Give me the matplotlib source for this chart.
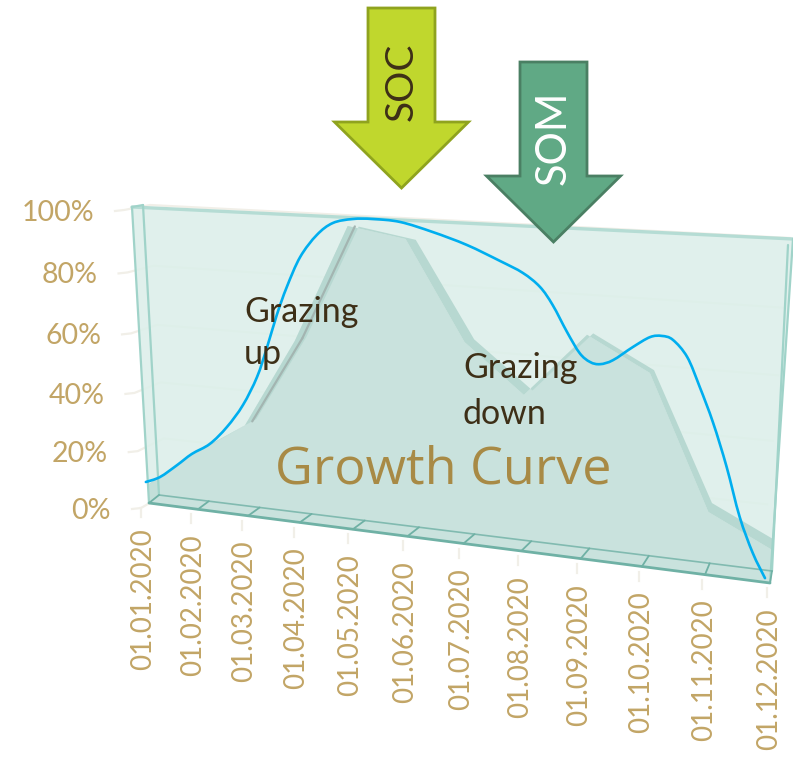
import numpy as np
import matplotlib
matplotlib.use("Agg")
import matplotlib.pyplot as plt
import matplotlib.patches as mpatches
import matplotlib.path as mpath
import matplotlib.transforms as mtransforms

plt.rcParams['font.family'] = ['Lato', 'DejaVu Sans']

# Chart values
dates = ["01.01.2020", "01.02.2020", "01.03.2020", "01.04.2020", "01.05.2020", "01.06.2020",
         "01.07.2020", "01.08.2020", "01.09.2020", "01.10.2020", "01.11.2020", "01.12.2020"]
percent_ticks = [0, 20, 40, 60, 80, 100]
growth = [6.4, 19.4, 30.9, 60.4, 97.4, 94.4, 64.3, 49.6, 69.3, 59.5, 19.5, 10.2]

# Blue line drawn over the chart (month position, percent)
line_month = [-0.04, 0.26, 0.62, 0.93, 1.30, 1.65, 1.98, 2.27, 2.48, 2.68,
              2.88, 3.14, 3.45, 3.74, 4.09, 4.44, 4.91, 5.46, 6.03, 6.58,
              6.95, 7.23, 7.44, 7.68, 7.89, 8.06, 8.22, 8.42, 8.72, 8.98,
              9.16, 9.33, 9.56, 9.77, 10.00, 10.24, 10.48, 10.71, 10.92]
line_pct = [7.4, 9.8, 14.7, 19.2, 23.4, 29.8, 37.8, 47.6, 57.7, 68.3,
            77.4, 87.1, 94.2, 98.1, 99.6, 99.9, 99.4, 96.9, 93.6, 89.4,
            86.3, 82.5, 77.4, 69.7, 63.7, 61.3, 60.9, 62.4, 66.7, 70.0,
            70.6, 69.7, 65.0, 56.6, 46.4, 33.7, 19.1, 8.6, 1.3]


# Perspective of the 3D chart: month/percent to canvas position
class Plane(mtransforms.Transform):
    input_dims = 2
    output_dims = 2

    def __init__(self, bl, br, tr, tl):
        super().__init__()
        src = [(0, 0), (11, 0), (11, 100), (0, 100)]
        rows, rhs = [], []
        for (u, v), (x, y) in zip(src, [bl, br, tr, tl]):
            rows.append([u, v, 1, 0, 0, 0, -u * x, -v * x])
            rows.append([0, 0, 0, u, v, 1, -u * y, -v * y])
            rhs += [x, y]
        self.h = np.append(np.linalg.solve(np.array(rows, float), rhs), 1).reshape(3, 3)

    def transform_non_affine(self, values):
        pts = np.column_stack([values, np.ones(len(values))]) @ self.h.T
        return pts[:, :2] / pts[:, 2:]


front = Plane((149, 503), (770, 583), (793, 239), (132, 207))
back = Plane((159, 495), (772, 571), (788, 245), (143, 205))
wall = Plane((167, 493), (762, 566), (790, 238), (150, 205))
axis = Plane((141, 508), (767, 588), (791, 245), (124, 210))

fig = plt.figure(figsize=(7.93, 7.58), dpi=100)
ax = fig.add_axes([0, 0, 1, 1])
ax.set_xlim(0, 793)
ax.set_ylim(758, 0)
ax.axis("off")

GRID = "#f1efe8"
LABEL = "#c2a566"
months = np.arange(12)


def on(plane, m, p):
    return plane.transform(np.column_stack([np.atleast_1d(m), np.atleast_1d(p)]))


def quad(a, b, **kw):
    # Fill between a run of points and a second run going back
    pts = np.vstack([a, b[::-1]])
    ax.fill(pts[:, 0], pts[:, 1], **kw)


def seg(pts, **kw):
    ax.plot(pts[:, 0], pts[:, 1], solid_capstyle="round", **kw)


def smooth_path(pts):
    # Catmull-Rom through the points, as bezier pieces
    p = np.vstack([pts[0], pts, pts[-1]])
    verts = [pts[0]]
    for i in range(1, len(p) - 2):
        verts.append(p[i] + (p[i + 1] - p[i - 1]) / 6)
        verts.append(p[i + 1] - (p[i + 2] - p[i]) / 6)
        verts.append(p[i + 1])
    codes = [mpath.Path.MOVETO] + [mpath.Path.CURVE4] * (len(verts) - 1)
    return mpath.Path(verts, codes)


# Gridlines, y ticks and labels
for p in percent_ticks:
    a = on(axis, 0, p)
    w0 = on(wall, 0, p)
    w1 = on(wall, 11, p)
    ax.plot([a[0, 0] - 9, a[0, 0], w0[0, 0], w1[0, 0]], [a[0, 1] + 1, a[0, 1], w0[0, 1], w1[0, 1]],
            color=GRID, lw=1.6, zorder=1)
    ax.text(a[0, 0] - 30, a[0, 1] + 3, f"{p}%", color=LABEL, fontsize=20.5, ha="right", va="center")

# x ticks and date labels
for m, label in zip(months, dates):
    a = on(axis, m, 0)
    ax.plot([a[0, 0], a[0, 0]], [a[0, 1], a[0, 1] + 9], color=GRID, lw=1.6, zorder=1)
    ax.text(a[0, 0] + 2, a[0, 1] + 20, label, color=LABEL, fontsize=20, rotation=90, ha="center", va="top")

# Upper translucent panel
rect = on(front, [0, 11, 11, 0], [0, 0, 100, 100])
ax.fill(rect[:, 0], rect[:, 1], color="#dcefea", alpha=0.88, lw=0, zorder=2)

# Lower area: front face, side faces and top band
zero = np.zeros(12)
f_top = on(front, months, growth)
b_top = on(back, months, growth)
f_low = on(front, months, zero)
b_low = on(back, months, zero)
quad(f_top, f_low, color="#c9e2dd", lw=0, zorder=3)
quad(f_top[:1], np.vstack([f_low[:1], b_low[:1], b_top[:1]]), color="#c3dfd9", lw=0, zorder=3)
quad(f_top[-1:], np.vstack([f_low[-1:], b_low[-1:], b_top[-1:]]), color="#a9d2ca", lw=0, zorder=3)
quad(f_top, b_top, color="#b7d8d1", lw=0, zorder=4)

# Grey shading on the steep part of the rise
for i in [2, 3]:
    seg(f_top[i:i + 2] * 0.35 + b_top[i:i + 2] * 0.65, color="#a3b5b1", lw=1.6, zorder=4)

# Panel outlines
EDGE = "#a0d3c9"
seg(on(front, [0, 11], [100, 100]), color="#b5dcd4", lw=2.4, zorder=5)
seg(np.vstack([on(front, [0, 0], [0, 100]), on(back, 0, 100)]), color=EDGE, lw=1.6, zorder=5)
seg(on(back, [0, 0], [0, 100]), color=EDGE, lw=1.6, zorder=5)
seg(on(front, [11, 11], [0, 100]), color=EDGE, lw=1.6, zorder=5)
seg(on(back, [11, 11], [0, 100]), color=EDGE, lw=1.6, zorder=5)

# Floor strip with month dividers
FLOOR = "#6fb1a5"
seg(on(front, [0, 11], [0, 0]), color=FLOOR, lw=2.0, zorder=6)
seg(on(back, [0, 11], [0, 0]), color=FLOOR, lw=1.2, alpha=0.8, zorder=6)
for m in months:
    seg(np.vstack([on(front, m, 0), on(back, m, 0)]), color=FLOOR, lw=1.3, zorder=6)

# Blue line
line_pts = on(front, line_month, line_pct)
ax.add_patch(mpatches.PathPatch(smooth_path(line_pts), fill=False, edgecolor="#00aeef", lw=1.9,
                                capstyle="round", zorder=7))

# Arrows
soc = mpatches.FancyArrow(401.5, 8, 0, 180, width=67, head_width=134, head_length=66, length_includes_head=True,
                          facecolor="#c0d72d", edgecolor="#8fa31e", lw=2, joinstyle="miter", zorder=8)
som = mpatches.FancyArrow(553.5, 62, 0, 180, width=67, head_width=134, head_length=66, length_includes_head=True,
                          facecolor="#60a985", edgecolor="#4a7f63", lw=2, joinstyle="miter", zorder=8)
ax.add_patch(soc)
ax.add_patch(som)
ax.text(402, 82, "SOC", color="#3d2f17", fontsize=28, rotation=90, ha="center", va="center", zorder=9)
ax.text(554, 138, "SOM", color="white", fontsize=30, rotation=90, ha="center", va="center", zorder=9)

# Notes
DARK = "#3d2f17"
ax.text(244, 333, "Grazing\nup", color=DARK, fontsize=24.5, ha="left", va="center", linespacing=1.42, zorder=9)
ax.text(463, 391, "Grazing\ndown", color=DARK, fontsize=24.5, ha="left", va="center", linespacing=1.5, zorder=9)
ax.text(443, 470, "Growth Curve", color="#a88a45", fontsize=37.5, family="Open Sans", ha="center", va="center", zorder=9)

fig.savefig("out.png", dpi=100)
